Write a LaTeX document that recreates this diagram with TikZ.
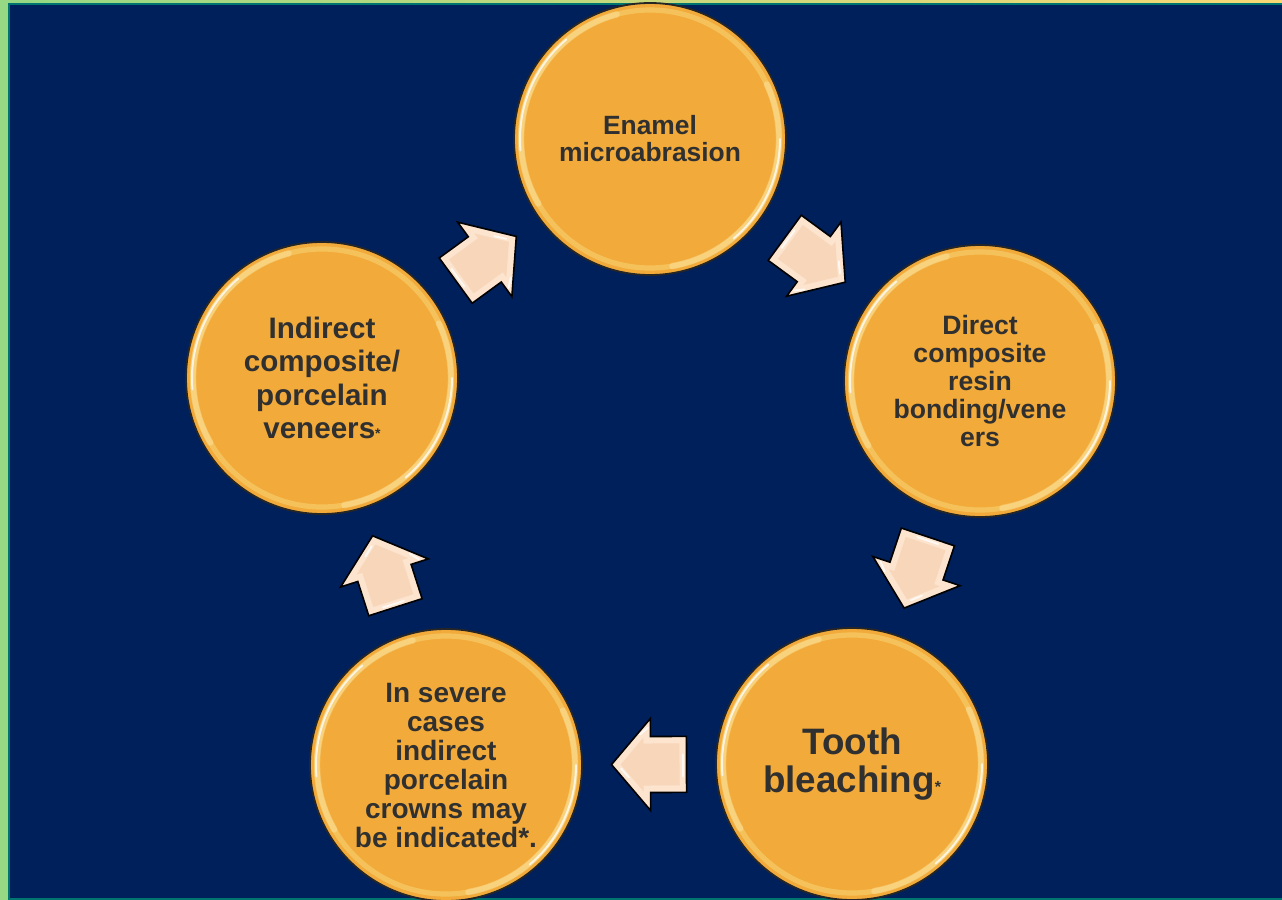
\documentclass[tikz,border=0pt]{standalone}
\usepackage{fontspec}
\setmainfont{Liberation Sans}
\usetikzlibrary{calc}

\definecolor{navy}{RGB}{0,32,91}
\definecolor{bubble}{RGB}{242,171,58}
\definecolor{inktext}{RGB}{48,48,48}
\definecolor{peach}{RGB}{252,228,206}
\definecolor{peachdark}{RGB}{248,214,186}
\definecolor{framegreen}{RGB}{150,216,132}
\definecolor{frameyellow}{RGB}{248,216,116}
\definecolor{frameteal}{RGB}{0,116,110}

\tikzset{
    stage/.style={circle,draw=black!85,line width=0.9pt,fill=bubble,minimum size=136pt,inner sep=0pt,text=inktext,align=center},
    rim/.style={line width=2.6pt,draw=yellow!30!white,opacity=0.28},
    glint/.style={line width=1pt,draw=white,opacity=0.75,line cap=round},
    softglint/.style={line width=3.2pt,draw=yellow!20!white,opacity=0.3,line cap=round},
    cyclearrow/.pic={
        \filldraw[fill=peach,draw=black,line width=0.8pt,line join=miter]
            (-37.5,28) -- (-1.5,28) -- (-1.5,46) -- (37.5,0) -- (-1.5,-46) -- (-1.5,-28) -- (-37.5,-28) -- cycle;
        \fill[peachdark]
            (-30.5,21) -- (5.5,21) -- (5.5,26.9) -- (28.3,0) -- (5.5,-26.9) -- (5.5,-21) -- (-30.5,-21) -- cycle;
        \draw[glint] (1,37) -- (9,30);
        \draw[glint] (-34,-12) -- (-34,10);
        \draw[glint] (20,-13) -- (28,-4);
    }
}

\begin{document}
\begin{tikzpicture}[x=0.5pt,y=-0.5pt]
    \useasboundingbox (0,0) rectangle (1282,900);

    \fill[navy] (0,0) rectangle (1282,900);
    \shade[left color=framegreen,right color=frameyellow] (0,0) rectangle (1282,3);
    \fill[framegreen] (0,0) rectangle (8,900);
    \fill[frameteal] (8,3) rectangle (1282,5);
    \fill[frameteal] (8,3) rectangle (10,900);
    \fill[frameteal] (8,898) rectangle (1282,900);

    \node[stage,font=\fontsize{13.2}{13.5}\selectfont\bfseries] (enamel) at (650,139) {Enamel\\microabrasion};
    \node[stage,font=\fontsize{13.3}{14}\selectfont\bfseries] (direct) at (980,381) {Direct\\composite\\resin\\bonding/vene\\ers};
    \node[stage,font=\fontsize{18.4}{19}\selectfont\bfseries] (bleach) at (852,764) {Tooth\\bleaching{\fontsize{8}{8}\selectfont*}};
    \node[stage,font=\fontsize{14}{14.5}\selectfont\bfseries] (crowns) at (446,765) {In severe\\cases\\indirect\\porcelain\\crowns may\\be indicated*.};
    \node[stage,font=\fontsize{14.8}{16.6}\selectfont\bfseries] (indirect) at (322,378) {Indirect\\composite/\\porcelain\\veneers{\fontsize{7}{7}\selectfont*}};

    \foreach \n in {enamel,direct,bleach,crowns,indirect}{
        \draw[rim] (\n.center) circle (64.5pt);
        \draw[softglint] ($(\n.center)+(105:64.5pt)$) arc (105:210:64.5pt);
        \draw[glint] ($(\n.center)+(130:65pt)$) arc (130:185:65pt);
        \draw[softglint] ($(\n.center)+(-80:64.5pt)$) arc (-80:25:64.5pt);
        \draw[glint] ($(\n.center)+(-50:65pt)$) arc (-50:0:65pt);
    }

    \path (indirect.center) -- (enamel.center) pic[pos=0.5,sloped,allow upside down] {cyclearrow};
    \path (enamel.center) -- (direct.center) pic[pos=0.5,sloped,allow upside down] {cyclearrow};
    \path (direct.center) -- (bleach.center) pic[pos=0.5,sloped,allow upside down] {cyclearrow};
    \path (bleach.center) -- (crowns.center) pic[pos=0.5,sloped,allow upside down] {cyclearrow};
    \path (crowns.center) -- (indirect.center) pic[pos=0.5,sloped,allow upside down] {cyclearrow};
\end{tikzpicture}
\end{document}
